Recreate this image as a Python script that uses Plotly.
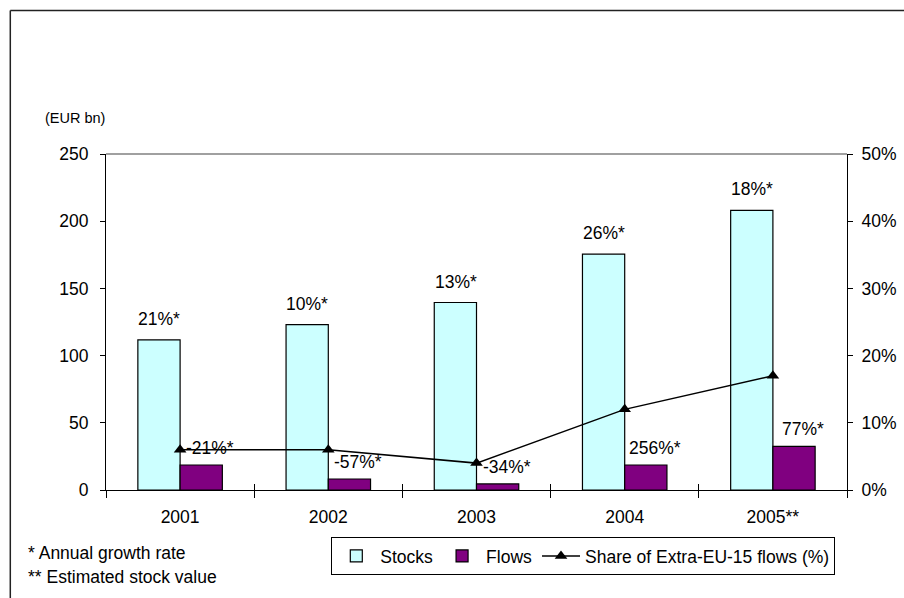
import plotly.graph_objects as go

years = ["2001", "2002", "2003", "2004", "2005**"]
stocks = [111.7, 123.1, 139.5, 175.5, 208.0]
flows = [18.6, 8.2, 4.5, 18.6, 32.5]
share = [0.06, 0.06, 0.04, 0.12, 0.17]
stock_growth = ["21%*", "10%*", "13%*", "26%*", "18%*"]
flow_growth = ["-21%*", "-57%*", "-34%*", "256%*", "77%*"]

W, H = 904, 598
# plot area in window pixels
L, R, T, B = 105.7, 846.7, 154.3, 490.0
FONT = "Liberation Sans, Arial, sans-serif"
FS = 17.5


def px(x):
    return (x - L) / (R - L)


def py(y):
    return (B - y) / (B - T)


fig = go.Figure()
fig.add_trace(go.Bar(x=years, y=stocks, name="Stocks", marker=dict(color="#CCFFFF", line=dict(color="#000000", width=1.2)), offsetgroup="s"))
fig.add_trace(go.Bar(x=years, y=flows, name="Flows", marker=dict(color="#800080", line=dict(color="#000000", width=1.2)), offsetgroup="f"))
fig.add_trace(go.Scatter(x=years, y=share, name="Share of Extra-EU-15 flows (%)", yaxis="y2", mode="lines+markers",
                         line=dict(color="#000000", width=1.5), marker=dict(symbol="triangle-up", size=11, color="#000000")))
# invisible helper trace so the overlaid tick axis (inner halves of the x ticks) knows the categories
fig.add_trace(go.Scatter(x=years, y=stocks, xaxis="x2", mode="markers", marker=dict(opacity=0),
                         showlegend=False, hoverinfo="skip"))

for i, (v, t) in enumerate(zip(stocks, stock_growth)):
    fig.add_annotation(x=i, y=v, text=t, showarrow=False, xshift=-21, yshift=21, yanchor="middle",
                       font=dict(family=FONT, size=FS, color="#000"))
for i, (v, t) in enumerate(zip(flows, flow_growth)):
    fig.add_annotation(x=i, y=v, text=t, showarrow=False, xshift=30, yshift=17, yanchor="middle",
                       font=dict(family=FONT, size=FS, color="#000"))

fig.add_annotation(xref="paper", yref="paper", x=px(43), y=py(118), text="(EUR bn)", showarrow=False,
                   xanchor="left", yanchor="middle", font=dict(family=FONT, size=14.5, color="#000"))
fig.add_annotation(xref="paper", yref="paper", x=px(26), y=py(553), text="* Annual growth rate", showarrow=False,
                   xanchor="left", yanchor="middle", font=dict(family=FONT, size=FS, color="#000"))
fig.add_annotation(xref="paper", yref="paper", x=px(26), y=py(577), text="** Estimated stock value", showarrow=False,
                   xanchor="left", yanchor="middle", font=dict(family=FONT, size=FS, color="#000"))

# outer frame (only its top and left edges fall inside the picture) and top plot-area line
fig.add_shape(type="line", xref="paper", yref="paper", x0=px(10), y0=py(11), x1=px(920), y1=py(11),
              line=dict(color="#222222", width=1.5), layer="below")
fig.add_shape(type="line", xref="paper", yref="paper", x0=px(10), y0=py(11), x1=px(10), y1=py(620),
              line=dict(color="#222222", width=1.5), layer="below")
fig.add_shape(type="line", xref="paper", yref="paper", x0=0, y0=1, x1=1, y1=1,
              line=dict(color="#808080", width=1.5))

fig.update_layout(
    width=W, height=H,
    margin=dict(l=L, r=W - R, t=T, b=H - B, pad=0, autoexpand=False),
    paper_bgcolor="white", plot_bgcolor="white",
    barmode="group", bargap=0.43, bargroupgap=0,
    font=dict(family=FONT, size=FS, color="#000"),
    showlegend=True,
    legend=dict(orientation="h", x=px(331), y=py(556), xanchor="left", yanchor="middle",
                bordercolor="#000", borderwidth=1, bgcolor="white", itemwidth=38,
                font=dict(family=FONT, size=FS, color="#000"), traceorder="normal"),
    xaxis=dict(type="category", range=[-0.5, 4.5], showline=True, linecolor="#000", linewidth=1.2,
               ticks="outside", ticklen=7, tickcolor="#000", tickson="boundaries", showgrid=False,
               ticklabelstandoff=11, zeroline=False, tickfont=dict(family=FONT, size=FS, color="#000")),
    xaxis2=dict(type="category", range=[-0.5, 4.5], overlaying="x", anchor="y", showline=False,
                ticks="inside", ticklen=6, tickcolor="#000", tickson="boundaries", showticklabels=False,
                showgrid=False, zeroline=False),
    yaxis=dict(range=[0, 250], dtick=50, showline=True, linecolor="#000", linewidth=1.2, ticks="outside",
               ticklen=5, tickcolor="#000", showgrid=False, zeroline=False, ticklabelstandoff=8,
               tickfont=dict(family=FONT, size=FS, color="#000")),
    yaxis2=dict(range=[0, 0.5], dtick=0.1, tickformat=".0%", overlaying="y", side="right", showline=True,
                linecolor="#000", linewidth=1.2, ticks="outside", ticklen=5, tickcolor="#000", showgrid=False,
                zeroline=False, ticklabelstandoff=5, tickfont=dict(family=FONT, size=FS, color="#000")),
    yaxis3=dict(range=[0, 0.5], dtick=0.1, overlaying="y", side="right", showline=False, ticks="inside",
                ticklen=5, tickcolor="#000", showgrid=False, zeroline=False, showticklabels=False),
)

fig.write_html("out.html", config={"displayModeBar": False},
               post_script="document.body.style.margin='0';document.body.style.overflow='hidden';")
